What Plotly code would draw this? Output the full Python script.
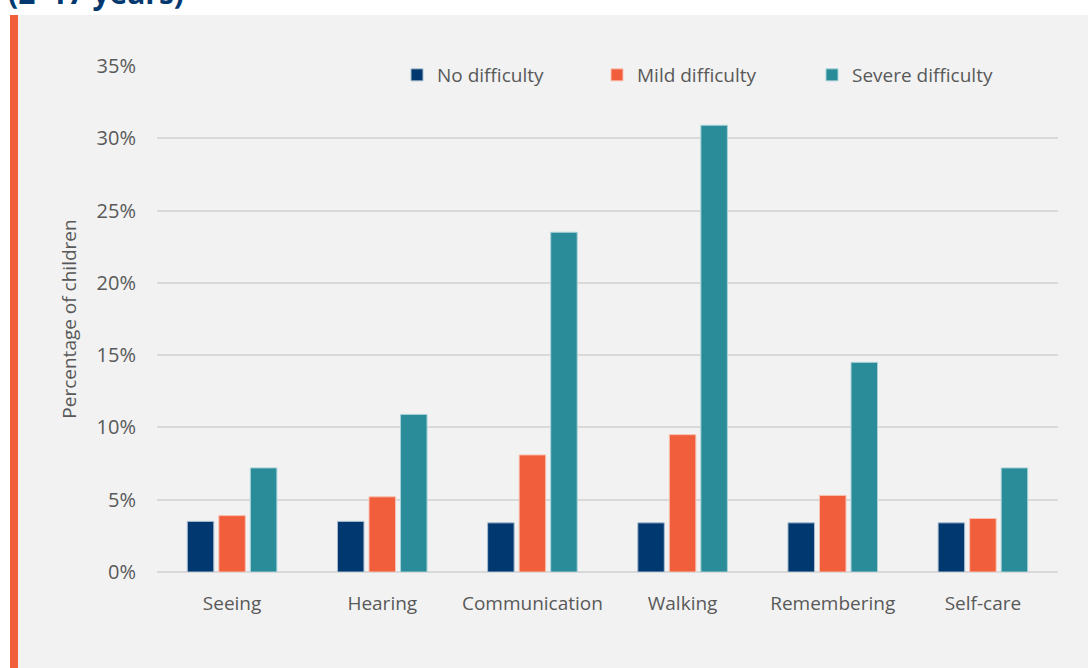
import plotly.graph_objects as go

# data
domains = ['Seeing', 'Hearing', 'Communication', 'Walking', 'Remembering', 'Self-care']
no_difficulty = [3.5, 3.5, 3.4, 3.4, 3.4, 3.4]
mild_difficulty = [3.9, 5.2, 8.1, 9.5, 5.3, 3.7]
severe_difficulty = [7.2, 10.9, 23.5, 30.9, 14.5, 7.2]
series_names = ['No difficulty', 'Mild difficulty', 'Severe difficulty']
y_ticks = [0, 5, 10, 15, 20, 25, 30, 35]

W, H = 1088, 668
L, R, T, B = 157, 30, 66, 96
colors = ['#00386f', '#f15e3b', '#2a8b99']
edges = ['#a9bccf', '#f9c1b2', '#a8d2d8']
FONT = 'Open Sans, Noto Sans, sans-serif'
GREY_TEXT = '#595959'


def px_x(p):
    return (p - L) / (W - L - R)


def px_y(p):
    return (H - B - p) / (H - T - B)


fig = go.Figure()
legends = ['legend', 'legend2', 'legend3']
for name, vals, c, e, lg in zip(series_names,
                                [no_difficulty, mild_difficulty, severe_difficulty],
                                colors, edges, legends):
    fig.add_trace(go.Bar(x=domains, y=vals, name=name, legend=lg,
                         marker=dict(color=c, line=dict(color=e, width=1)),
                         hovertemplate=name + ': %{y}%<extra>%{x}</extra>'))

leg_common = dict(orientation='h', bgcolor='rgba(0,0,0,0)', itemwidth=30,
                  font=dict(family=FONT, size=19, color=GREY_TEXT),
                  yanchor='middle', y=px_y(75), xanchor='left')
leg_x = [397, 597, 812]

fig.update_layout(
    width=W, height=H,
    margin=dict(l=L, r=R, t=T, b=B),
    paper_bgcolor='#f2f2f2', plot_bgcolor='#f2f2f2',
    font=dict(family=FONT, size=19, color=GREY_TEXT),
    barmode='group', bargap=0.37, bargroupgap=0.16,
    showlegend=True,
    legend=dict(x=px_x(leg_x[0]), **leg_common),
    legend2=dict(x=px_x(leg_x[1]), **leg_common),
    legend3=dict(x=px_x(leg_x[2]), **leg_common),
    xaxis=dict(showgrid=False, showline=False, ticks='', ticklabelstandoff=18,
               tickfont=dict(size=19, color=GREY_TEXT)),
    yaxis=dict(range=[0, 35], tickvals=y_ticks,
               ticktext=[f'{v}%' for v in y_ticks],
               showgrid=True, gridcolor='#d9d9d9', gridwidth=1.5,
               zeroline=True, zerolinecolor='#d9d9d9', zerolinewidth=1.5,
               ticks='', ticklabelstandoff=20,
               tickfont=dict(size=20, color=GREY_TEXT),
               title=dict(text='Percentage of children', standoff=14,
                          font=dict(size=19, color=GREY_TEXT))),
    shapes=[
        # white strip on top and left, orange accent bar
        dict(type='rect', xref='paper', yref='paper', layer='below',
             x0=px_x(0), x1=px_x(W), y0=px_y(15), y1=px_y(0),
             fillcolor='white', line_width=0),
        dict(type='rect', xref='paper', yref='paper', layer='below',
             x0=px_x(0), x1=px_x(10), y0=px_y(H), y1=px_y(0),
             fillcolor='white', line_width=0),
        dict(type='rect', xref='paper', yref='paper', layer='below',
             x0=px_x(10), x1=px_x(18), y0=px_y(H), y1=px_y(15),
             fillcolor='#f15e3b', line_width=0),
    ],
    annotations=[
        # title sits mostly above the visible frame, as in the source page
        dict(text='<b>(2–17 years)</b>', xref='paper', yref='paper',
             x=px_x(6), y=px_y(15), xanchor='left', yanchor='bottom',
             showarrow=False, font=dict(family=FONT, size=30, color='#00386f')),
    ],
)

# drop the default body margin so the figure fills the window exactly
fig.write_html('out.html', config={'displayModeBar': False},
               post_script="document.body.style.margin='0';")
